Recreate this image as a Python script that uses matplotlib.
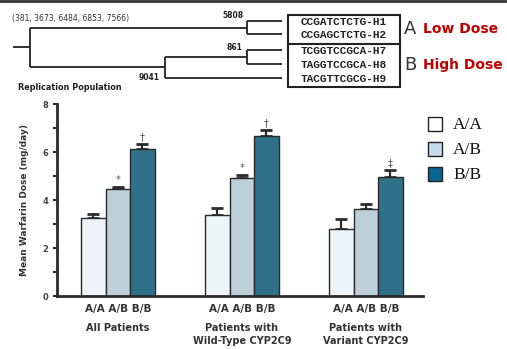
import numpy as np
import matplotlib
matplotlib.use('Agg')
import matplotlib.pyplot as plt
from matplotlib.patches import Rectangle

# bar data (mg/day)
genotypes = ['A/A', 'A/B', 'B/B']
groups = ['All Patients', 'Patients with\nWild-Type CYP2C9', 'Patients with\nVariant CYP2C9']
means = {
    'A/A': [3.25, 3.37, 2.79],
    'A/B': [4.46, 4.92, 3.62],
    'B/B': [6.12, 6.66, 4.96],
}
errs = {
    'A/A': [0.17, 0.29, 0.41],
    'A/B': [0.07, 0.12, 0.21],
    'B/B': [0.21, 0.26, 0.29],
}
marks = {
    'A/A': ['', '', ''],
    'A/B': ['*', '*', ''],
    'B/B': ['\u2020', '\u2020', '\u2021'],
}
bar_colors = ['#eef4f7', '#bdd0da', '#2f7189']
legend_colors = ['#ffffff', '#c8daf0', '#0b6394']

# haplotype tree
haplotypes = ['CCGATCTCTG-H1', 'CCGAGCTCTG-H2', 'TCGGTCCGCA-H7', 'TAGGTCCGCA-H8', 'TACGTTCGCG-H9']
node_labels = ['5808', '861', '9041']
sites = '(381, 3673, 6484, 6853, 7566)'

W, H = 507, 349
fig = plt.figure(figsize=(W / 100, H / 100), dpi=100)

# ---------- bar chart ----------
ax = fig.add_axes([57 / W, (H - 296) / H, 366 / W, 192 / H])
x = np.arange(len(groups))
w = 0.198
dark = '#2b2b2b'
for i, g in enumerate(genotypes):
    xs = x + (i - 1) * w
    ax.bar(xs, means[g], width=w, color=bar_colors[i], edgecolor=dark, linewidth=1.0, zorder=2)
    ax.errorbar(xs, means[g], yerr=[np.zeros(3), errs[g]], fmt='none', ecolor=dark,
                elinewidth=1.6, capsize=4, capthick=2, zorder=1)
    for xi, m, e, s in zip(xs, means[g], errs[g], marks[g]):
        if s:
            ax.text(xi, m + e + 0.08, s, ha='center', va='bottom', fontsize=7, color='#555555')

ax.set_ylim(0, 8)
ax.set_xlim(-0.49, 2.46)
ax.set_yticks([0, 2, 4, 6, 8])
ax.set_yticks([1, 3, 5, 7], minor=True)
ax.tick_params(axis='y', which='both', length=3, width=1.5, color=dark, labelsize=6,
               labelcolor='#444444', pad=3)
ax.set_xticks([])
for t in ax.get_yticklabels():
    t.set_fontweight('bold')
for s in ['top', 'right']:
    ax.spines[s].set_visible(False)
for s in ['left', 'bottom']:
    ax.spines[s].set_linewidth(2)
    ax.spines[s].set_color(dark)
ax.set_ylabel('Mean Warfarin Dose (mg/day)', fontsize=6.5, fontweight='bold', color='#333333', labelpad=10)
ax.patch.set_alpha(0)

for xi, gname in zip(x, groups):
    ax.text(xi, -0.55, ' '.join(genotypes), ha='center', va='center', fontsize=7.5,
            fontweight='bold', color='#333333')
    ax.text(xi, -1.12, gname, ha='center', va='top', fontsize=7, fontweight='bold',
            color='#333333', linespacing=1.35)

# legend
for i, g in enumerate(genotypes):
    yy = 124 + i * 25
    fig.patches.append(Rectangle((428 / W, 1 - (yy + 7) / H), 14 / W, 14 / H, transform=fig.transFigure,
                                 facecolor=legend_colors[i], edgecolor='#222222', linewidth=1))
    fig.text(453 / W, 1 - (yy + 1) / H, g, fontsize=12.5, family='Liberation Serif', va='center', ha='left',
             color='#111111')

# ---------- haplotype tree ----------
tx = fig.add_axes([0, 0, 1, 1])
tx.set_xlim(0, W)
tx.set_ylim(H, 0)
tx.axis('off')
tx.patch.set_alpha(0)
lc = '#222222'
leaf_y = [21, 34, 50, 64, 78]
tree_segments = [
    ([13, 30], [47, 47]), ([30, 30], [28, 67]),
    ([30, 247], [28, 28]), ([247, 247], [21, 34]),
    ([247, 282], [21, 21]), ([247, 282], [34, 34]),
    ([30, 165], [67, 67]), ([165, 165], [57, 78]),
    ([165, 247], [57, 57]), ([247, 247], [50, 64]),
    ([247, 282], [50, 50]), ([247, 282], [64, 64]),
    ([165, 282], [78, 78]),
]
for sx, sy in tree_segments:
    tx.plot(sx, sy, color=lc, lw=1.3, solid_capstyle='butt')
tx.text(12, 19, sites, fontsize=5.5, color='#333333', va='center', ha='left')
tx.text(244, 20, node_labels[0], fontsize=5.5, fontweight='bold', color='#222222', ha='right', va='bottom')
tx.text(242, 52, node_labels[1], fontsize=5.5, fontweight='bold', color='#222222', ha='right', va='bottom')
tx.text(160, 78, node_labels[2], fontsize=5.5, fontweight='bold', color='#222222', ha='right', va='center')
tx.text(18, 87, 'Replication Population', fontsize=6.5, fontweight='bold', color='#222222', va='center',
        fontstretch='condensed')

tx.add_patch(Rectangle((288, 15), 112, 72, fill=False, edgecolor=lc, lw=1.5))
tx.plot([288, 400], [43.5, 43.5], color=lc, lw=1.5)
for hy, hname in zip(leaf_y, haplotypes):
    tx.text(344, hy + 1, hname, fontsize=8, family='Liberation Mono', fontweight='bold',
            color='#222222', ha='center', va='center')
tx.text(404, 29, 'A', fontsize=13, color='#333333', va='center', ha='left')
tx.text(404, 65, 'B', fontsize=13, color='#333333', va='center', ha='left')
tx.text(423, 29, 'Low Dose', fontsize=10, fontweight='bold', color='#c00000', va='center', ha='left')
tx.text(423, 65, 'High Dose', fontsize=10, fontweight='bold', color='#c00000', va='center', ha='left')
tx.plot([0, 505], [0.8, 0.8], color='#333333', lw=2)

fig.savefig('out.png', dpi=100)
